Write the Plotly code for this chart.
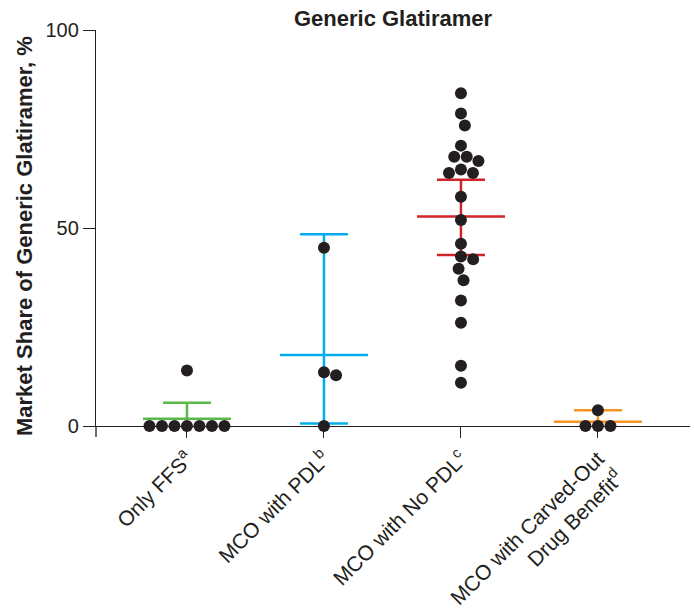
import math
import plotly.graph_objects as go

# ---- data ----
categories = ["Only FFS<sup>a</sup>", "MCO with PDL<sup>b</sup>",
              "MCO with No PDL<sup>c</sup>", "MCO with Carved-Out<br>Drug Benefit<sup>d</sup>"]
ffs = [0, 0, 0, 0, 0, 0, 0, 14]
pdl = [45, 13.6, 12.8, 0]
nopdl = [84, 78.9, 75.9, 70.8, 68, 68, 66.9, 64.8, 63.9, 63.9, 57.9, 52, 46,
         42.8, 42.1, 39.7, 36.8, 31.7, 26.1, 15.2, 10.9]
carved = [4, 0, 0, 0]
means = [1.8, 17.9, 52.9, 1.1]
ci_upper = [5.9, 48.4, 62.2, 4.0]
ci_lower = [None, 0.6, 43.2, None]
colors = ["#5bb947", "#00aeef", "#d2232a", "#f7931e"]
groups = [ffs, pdl, nopdl, carved]

# ---- layout constants (pixels) ----
W, H = 694, 609
L, R, T, B = 96, 4, 30, 183
plot_w = W - L - R
plot_h = H - T - B
x_range = [-0.664, 3.672]
y_range = [0, 100]
sx = plot_w / (x_range[1] - x_range[0])
sy = plot_h / (y_range[1] - y_range[0])


def swarm(vals, d=12.5):
    placed = []
    out = []
    side = 1
    for v in vals:
        y = v * sy
        cands = [0.0]
        for px, py in placed:
            dy = abs(py - y)
            if dy < d:
                dx = math.sqrt(d * d - dy * dy)
                cands += [px + dx, px - dx]
        valid = [c for c in cands
                 if all((c - px) ** 2 + (y - py) ** 2 >= d * d - 1e-6 for px, py in placed)]
        best = min(valid, key=lambda c: (round(abs(c), 4), -side * c))
        side = -side
        placed.append((best, y))
        out.append(best / sx)
    return out


fig = go.Figure()

mean_hw = 44 / sx
cap_hw = 24 / sx
for i, (m, up, lo, col) in enumerate(zip(means, ci_upper, ci_lower, colors)):
    xs = [i - mean_hw, i + mean_hw, None, i - cap_hw, i + cap_hw, None, i, i]
    ys = [m, m, None, up, up, None, lo if lo is not None else m, up]
    if lo is not None:
        xs += [None, i - cap_hw, i + cap_hw]
        ys += [None, lo, lo]
    fig.add_trace(go.Scatter(x=xs, y=ys, mode="lines",
                             line=dict(color=col, width=2.5),
                             hoverinfo="skip", showlegend=False, cliponaxis=False))

for i, vals in enumerate(groups):
    offs = swarm(vals)
    fig.add_trace(go.Scatter(x=[i + o for o in offs], y=vals, mode="markers",
                             marker=dict(color="#231f20", size=12, line=dict(width=0)),
                             showlegend=False, cliponaxis=False))

font_family = "Liberation Sans, Arial, Helvetica, sans-serif"
fig.update_layout(
    width=W, height=H,
    margin=dict(l=L, r=R, t=T, b=B, pad=0, autoexpand=False),
    paper_bgcolor="white", plot_bgcolor="white",
    font=dict(family=font_family, color="#231f20", size=20),
    title=dict(text="<b>Generic Glatiramer</b>", x=(L + plot_w / 2) / W, xanchor="center",
               y=1 - 18 / H, yanchor="middle", font=dict(size=22)),
    xaxis=dict(range=x_range, tickmode="array", tickvals=[0, 1, 2, 3], ticktext=categories,
               tickangle=-45, showline=True, linecolor="#231f20", linewidth=1.3,
               ticks="outside", ticklen=11, tickwidth=1.3, tickcolor="#231f20",
               showgrid=False, zeroline=False, tickfont=dict(size=21), automargin=False),
    yaxis=dict(range=y_range, tickvals=[0, 50, 100], showline=True, linecolor="#231f20",
               linewidth=1.3, ticks="outside", ticklen=12, tickwidth=1.3, tickcolor="#231f20",
               showgrid=False, zeroline=False, tickfont=dict(size=20), automargin=False),
    annotations=[dict(text="<b>Market Share of Generic Glatiramer, %</b>",
                      xref="paper", yref="paper",
                      x=-(L - 24) / plot_w, y=(T + plot_h - 236) / plot_h,
                      xanchor="center", yanchor="middle", textangle=-90,
                      showarrow=False, font=dict(size=22))],
    shapes=[dict(type="line", xref="paper", yref="paper", x0=0, x1=0, y0=0, y1=-11 / plot_h,
                 line=dict(color="#231f20", width=1.3))],
)

fig.write_html("out.html")
